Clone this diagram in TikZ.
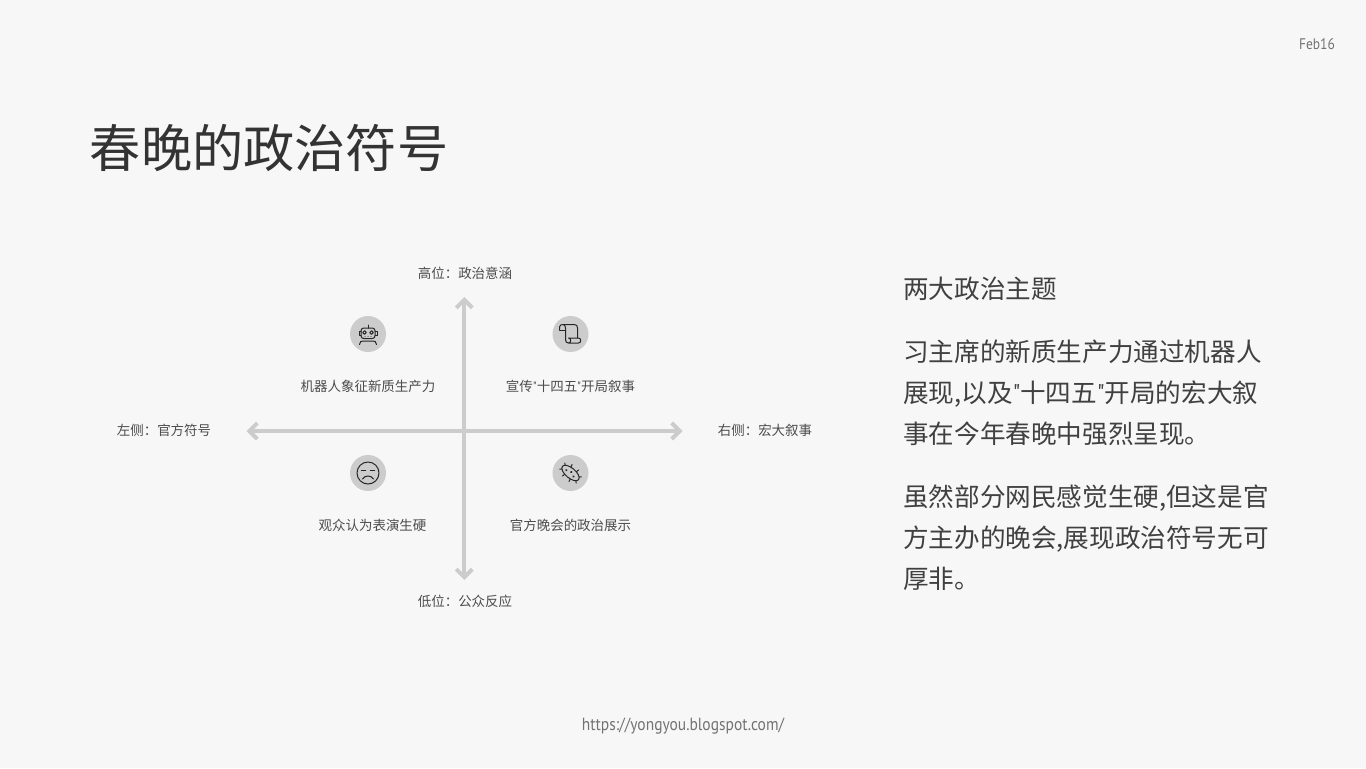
\documentclass[tikz,border=0pt]{standalone}
\usepackage{fontspec}
\setmainfont{Noto Sans CJK SC}
\newfontfamily\latinfont[FakeStretch=0.88]{PT Sans}
\newcommand{\dquote}{{\latinfont\char34 }}
\usetikzlibrary{arrows.meta,positioning}

\begin{document}
\begin{tikzpicture}[x=0.75pt,y=-0.75pt]
	\tikzstyle{pagetitle}=[text=black!80,inner sep=0pt,font=\fontsize{38.4}{40}\selectfont]
	\tikzstyle{bodytext}=[text=black!75,inner sep=0pt,anchor=north west,align=left,font=\fontsize{19.2}{30.75}\selectfont]
	\tikzstyle{axislabel}=[text=black!70,inner sep=0pt,font=\fontsize{10.1}{12}\selectfont]
	\tikzstyle{pagemark}=[text=black!55,inner sep=0pt,font=\latinfont\fontsize{13.2}{15}\selectfont]
	\tikzstyle{axisline}=[draw=black!20,line width=3pt,{Straight Barb[length=6pt,width=12pt,line width=3pt]}-{Straight Barb[length=6pt,width=12pt,line width=3pt]}]
	\tikzstyle{iconback}=[circle,fill=black!20,minimum size=27pt,inner sep=0pt]
	\tikzstyle{iconline}=[draw=black!85,line width=0.75pt,line join=round,line cap=round]

	\fill[black!3] (0,0) rectangle (1366,768);
	\useasboundingbox (0,0) rectangle (1366,768);

	\node[pagetitle] (title) at (269,148) {春晚的政治符号};
	\node[pagemark,font=\latinfont\fontsize{11.5}{13}\selectfont] (datemark) at (1317,44) {Feb16};
	\node[pagemark] (urlmark) at (683,726) {https://yongyou.blogspot.com/};

	\coordinate (axistop) at (464.3,297);
	\coordinate (axisbottom) at (464.3,580);
	\coordinate (axisleft) at (246.5,431);
	\coordinate (axisright) at (682.5,431);
	\draw[axisline] (axistop) -- (axisbottom);
	\draw[axisline] (axisleft) -- (axisright);

	\node[axislabel] (toplabel) at (465,273) {高位：政治意涵};
	\node[axislabel] (bottomlabel) at (465,601) {低位：公众反应};
	\node[axislabel] (leftlabel) at (164,430) {左侧：官方符号};
	\node[axislabel] (rightlabel) at (765,430) {右侧：宏大叙事};

	\node[iconback] (roboticon) at (368,334) {};
	\node[iconback] (scrollicon) at (570.5,334) {};
	\node[iconback] (faceicon) at (368,473) {};
	\node[iconback] (germicon) at (570.5,473) {};

	\node[axislabel,below=20.7pt of roboticon] (robotlabel) {机器人象征新质生产力};
	\node[axislabel,below=20.7pt of scrollicon] (scrolllabel) {宣传\dquote 十四五\dquote 开局叙事};
	\node[axislabel,below=20.7pt of faceicon,xshift=3.4pt] (facelabel) {观众认为表演生硬};
	\node[axislabel,below=20.7pt of germicon] (germlabel) {官方晚会的政治展示};

	\begin{scope}[shift={(roboticon.center)},iconline]
		\draw[rounded corners=2pt] (-7,-6) rectangle (7,4.5);
		\draw (-7,-3) -- (-9,-3) -- (-9,1) -- (-7,1);
		\draw (7,-3) -- (9,-3) -- (9,1) -- (7,1);
		\draw (0,-6) -- (0,-9);
		\draw (-3.5,-1.5) circle (1.8);
		\draw (3.5,-1.5) circle (1.8);
		\fill[black!85] (-3,2.5) circle (0.5) (0,2.5) circle (0.5) (3,2.5) circle (0.5);
		\draw (-8.5,10.5) .. controls (-8,7.5) and (-7,7) .. (-5,7) -- (5,7) .. controls (7,7) and (8,7.5) .. (8.5,10.5);
	\end{scope}

	\begin{scope}[shift={(scrollicon.center)},iconline]
		\draw (-11,-4) -- (-11,-7) .. controls (-11,-9) and (-9,-9.5) .. (-7.5,-9.5) -- (4,-9.5) .. controls (6,-9.5) and (7,-8) .. (7,-6) -- (7,4);
		\draw (-11,-4) -- (-5,-4);
		\draw (-7.5,-9.5) .. controls (-6,-9.5) and (-5,-8) .. (-5,-6) -- (-5,6) .. controls (-5,8) and (-3.5,9) .. (-2,9) -- (8,9) .. controls (11,9) and (11,4) .. (8,4) -- (-2,4) .. controls (1,4) and (1,9) .. (-2,9);
	\end{scope}

	\begin{scope}[shift={(faceicon.center)},iconline]
		\draw (0,0) circle (11);
		\draw[line width=1pt] (-6.5,-2.5) -- (-2.5,-2.5);
		\draw[line width=1pt] (2.5,-2.5) -- (6.5,-2.5);
		\draw (-5.5,6) .. controls (-3,2) and (3,2) .. (5.5,6);
	\end{scope}

	\begin{scope}[shift={(germicon.center)},rotate=-40,iconline]
		\draw (0,0) ellipse (10.5 and 5);
		\foreach \a in {30,70,110,150,210,250,290,330}
			\draw ({10.5*cos(\a)},{5*sin(\a)}) -- ({12.5*cos(\a)},{8*sin(\a)});
		\fill[black!85] (-5,0.5) circle (1.2);
		\fill[black!85] (0,-1.2) circle (1.2);
		\fill[black!85] (4.5,0.8) circle (1.2);
	\end{scope}

	\node[bodytext] (heading) at (903,276.5) {两大政治主题};
	\node[bodytext] (firstpara) at (903,339.5) {习主席的新质生产力通过机器人\\展现,以及\dquote 十四五\dquote 开局的宏大叙\\事在今年春晚中强烈呈现。};
	\node[bodytext] (secondpara) at (903,485) {虽然部分网民感觉生硬,但这是官\\方主办的晚会,展现政治符号无可\\厚非。};
\end{tikzpicture}
\end{document}
